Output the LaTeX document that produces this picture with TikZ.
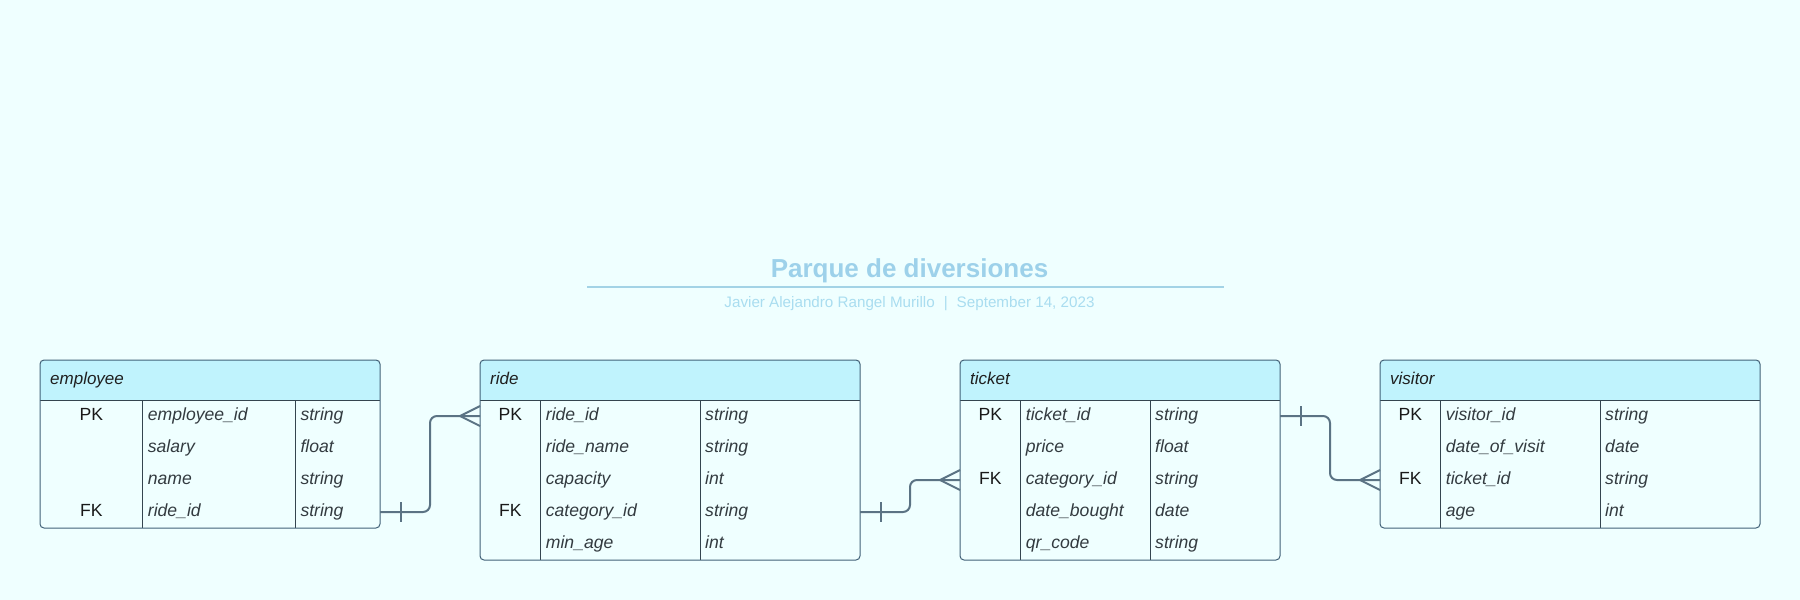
\documentclass[tikz,border=0pt]{standalone}
\usepackage{fontspec}
\setmainfont{Liberation Sans}
\definecolor{bgC}{HTML}{EFFFFF}
\definecolor{hdrC}{HTML}{C0F3FD}
\definecolor{borderC}{HTML}{426278}
\definecolor{divC}{HTML}{34454F}
\definecolor{connC}{HTML}{5B7384}
\definecolor{titleC}{HTML}{9DD1EA}
\definecolor{ruleC}{HTML}{A3D3E6}
\definecolor{subC}{HTML}{A9DDF0}
\definecolor{fldC}{HTML}{333B40}
\tikzset{
  tbl/.style={draw=borderC, line width=1pt, rounded corners=4pt, inner sep=0pt, outer sep=0pt},
  rowbox/.style={inner sep=0pt, outer sep=0pt, minimum height=32pt},
  divline/.style={draw=divC, line width=0.9pt},
  hdrtxt/.style={inner sep=0pt, font=\fontsize{17}{20}\selectfont\itshape, text=black!88},
  keytxt/.style={inner sep=0pt, font=\fontsize{17.6}{20}\selectfont, text=black!90},
  fldtxt/.style={inner sep=0pt, font=\fontsize{17.6}{20}\selectfont\itshape, text=fldC},
  conn/.style={draw=connC, line width=2pt},
}
\newcommand\erdtable[8]{%
  \pgfmathsetmacro\erdH{40+32*#8}%
  \pgfmathsetmacro\erdW{#4-#3}%
  \fill[hdrC, rounded corners=4pt] (#3,360) rectangle (#4,400);
  \fill[hdrC] (#3,385) rectangle (#4,400);
  \draw[divline] (#3,400) -- (#4,400);
  \draw[divline] (#5,400) -- (#5,360+\erdH);
  \draw[divline] (#6,400) -- (#6,360+\erdH);
  \node[tbl, minimum width=\erdW pt, minimum height=\erdH pt, anchor=north west] (#1) at (#3,360) {};
  \node[hdrtxt, anchor=base west] (#1-title) at (#3+10,384.5) {#2};
  \foreach \ky/\fd/\ty [count=\i from 0] in {#7} {
    \pgfmathsetmacro\yy{400+32*\i}
    \node[rowbox, minimum width=\erdW pt, anchor=north west] (#1-\i) at (#3,\yy) {};
    \node[keytxt, anchor=base] (#1-\i-k) at ({(#3+#5)/2},\yy+20.2) {\ky};
    \node[fldtxt, anchor=base west] (#1-\i-f) at (#5+5,\yy+20.2) {\fd};
    \node[fldtxt, anchor=base west] (#1-\i-t) at (#6+5,\yy+20.2) {\ty};
  }
}
\begin{document}
\begin{tikzpicture}[x=1pt, y=-1pt]
\useasboundingbox (0,0) rectangle (1800,600);
\fill[bgC] (0,0) rectangle (1800,600);

% title block
\node[inner sep=0pt, anchor=base, font=\fontsize{26}{30}\selectfont\bfseries, text=titleC] (title) at (909.5,277.5) {Parque de diversiones};
\draw[ruleC, line width=2pt] (587,287.3) -- (1224,287.3);
\node[inner sep=0pt, anchor=base, font=\fontsize{15.2}{18}\selectfont, text=subC] (subtitle) at (909.5,307.5) {Javier Alejandro Rangel Murillo\hspace{9pt}|\hspace{9pt}September 14, 2023};

% tables
\erdtable{employee}{employee}{40}{380}{142.7}{295.3}{PK/employee\_id/string, /salary/float, /name/string, FK/ride\_id/string}{4}
\erdtable{ride}{ride}{480}{860}{540.7}{700}{PK/ride\_id/string, /ride\_name/string, /capacity/int, FK/category\_id/string, /min\_age/int}{5}
\erdtable{ticket}{ticket}{960}{1280}{1020.7}{1150}{PK/ticket\_id/string, /price/float, FK/category\_id/string, /date\_bought/date, /qr\_code/string}{5}
\erdtable{visitor}{visitor}{1380}{1760}{1440.7}{1600}{PK/visitor\_id/string, /date\_of\_visit/date, FK/ticket\_id/string, /age/int}{4}

% connectors
\draw[conn, rounded corners=7pt] (employee-3.east) -- ++(50,0) |- (ride-0.west);
\draw[conn] ([xshift=21pt,yshift=10pt]employee-3.east) -- ([xshift=21pt,yshift=-10pt]employee-3.east);
\draw[conn] ([yshift=10pt]ride-0.west) -- ([xshift=-20pt]ride-0.west) -- ([yshift=-10pt]ride-0.west);

\draw[conn, rounded corners=7pt] (ride-3.east) -- ++(50,0) |- (ticket-2.west);
\draw[conn] ([xshift=21pt,yshift=10pt]ride-3.east) -- ([xshift=21pt,yshift=-10pt]ride-3.east);
\draw[conn] ([yshift=10pt]ticket-2.west) -- ([xshift=-20pt]ticket-2.west) -- ([yshift=-10pt]ticket-2.west);

\draw[conn, rounded corners=7pt] (ticket-0.east) -- ++(50,0) |- (visitor-2.west);
\draw[conn] ([xshift=21pt,yshift=10pt]ticket-0.east) -- ([xshift=21pt,yshift=-10pt]ticket-0.east);
\draw[conn] ([yshift=10pt]visitor-2.west) -- ([xshift=-20pt]visitor-2.west) -- ([yshift=-10pt]visitor-2.west);
\end{tikzpicture}
\end{document}
